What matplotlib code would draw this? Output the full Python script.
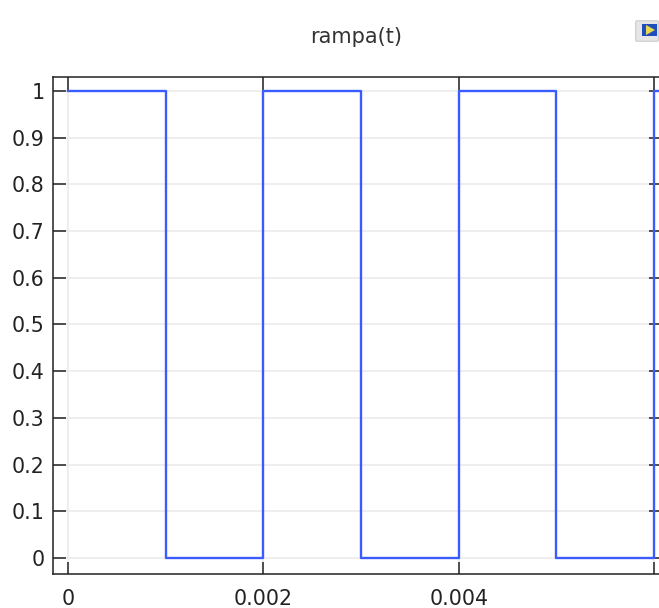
import matplotlib
matplotlib.use("Agg")
import matplotlib.pyplot as plt
from matplotlib.patches import FancyBboxPatch, Polygon

# square-wave signal: switching instants and the level held after each one
t_switch = [0.0, 0.001, 0.002, 0.003, 0.004, 0.005, 0.006, 0.0062]
level = [1, 0, 1, 0, 1, 0, 1, 1]

x_ticks = [0.0, 0.002, 0.004, 0.006]
x_labels = ["0", "0.002", "0.004", ""]
y_ticks = [0, 0.1, 0.2, 0.3, 0.4, 0.5, 0.6, 0.7, 0.8, 0.9, 1.0]
y_labels = ["0", "0.1", "0.2", "0.3", "0.4", "0.5", "0.6", "0.7", "0.8", "0.9", "1"]

fig = plt.figure(figsize=(6.59, 6.08), dpi=100)
ax = fig.add_axes([53 / 659, 34 / 608, (661 - 53) / 659, (574 - 77) / 608])

ax.step(t_switch, level, where="post", color="#3a5cff", lw=1.7, zorder=3)

ax.set_xlim(-0.000154, 0.006072)
ax.set_ylim(-0.0343, 1.030)

ax.set_xticks(x_ticks)
ax.set_xticklabels(x_labels)
ax.set_yticks(y_ticks)
ax.set_yticklabels(y_labels)

ax.grid(True, color="#ebebeb", lw=1.2, zorder=0)
ax.set_axisbelow(True)
ax.tick_params(direction="in", length=9, width=1.1, colors="#222222",
               labelsize=14.8, top=True, right=True)
ax.tick_params(axis="x", pad=11)
ax.tick_params(axis="y", pad=6)
for s in ax.spines.values():
    s.set_color("#222222")
    s.set_linewidth(1.1)

fig.text(0.541, 0.939, "rampa(t)", ha="center", va="center",
         fontsize=15, color="#333333")

# small image icon in the top-right corner
icon_frame = FancyBboxPatch((637 / 659, 1 - 40 / 608), 20 / 659, 18 / 608,
                            boxstyle="round,pad=0.002", transform=fig.transFigure,
                            facecolor="#e6e6e6", edgecolor="#cccccc", lw=0.8)
fig.patches.append(icon_frame)
icon_fill = FancyBboxPatch((642 / 659, 1 - 36 / 608), 15 / 659, 12 / 608,
                           boxstyle="square,pad=0", transform=fig.transFigure,
                           facecolor="#1f4fbf", edgecolor="none")
fig.patches.append(icon_fill)
icon_tri = Polygon([(646 / 659, 1 - 35 / 608), (646 / 659, 1 - 25 / 608),
                    (655 / 659, 1 - 30 / 608)], closed=True,
                   transform=fig.transFigure, facecolor="#e8d84a", edgecolor="none")
fig.patches.append(icon_tri)

fig.savefig("out.png", dpi=100)
